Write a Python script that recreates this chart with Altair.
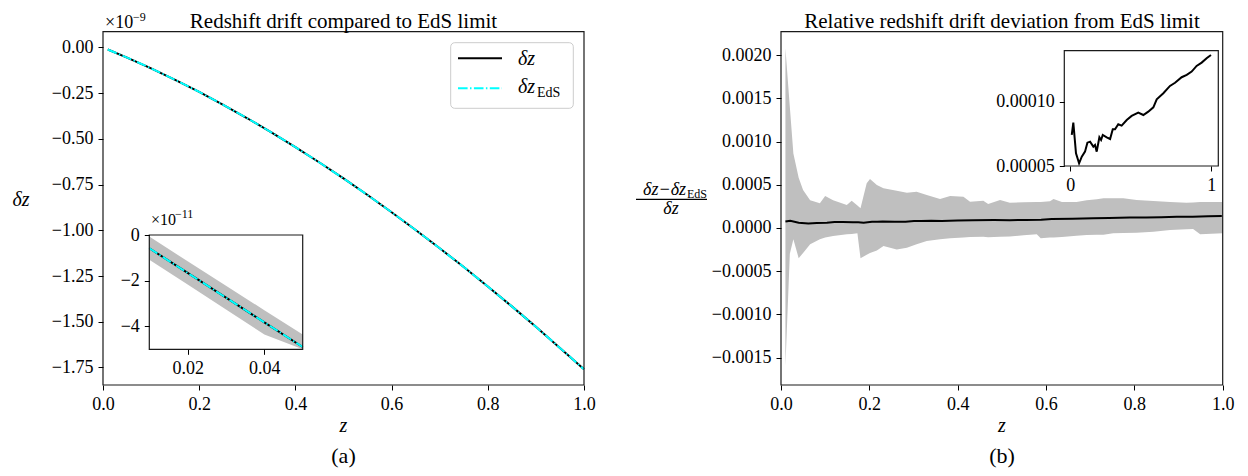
import altair as alt
import pandas as pd

# ---------------- data ----------------
# Panel (a): redshift drift (units of 1e-9)
z_main = [0.01, 0.05, 0.10, 0.15, 0.20, 0.25, 0.30, 0.35, 0.40, 0.45, 0.50,
          0.55, 0.60, 0.65, 0.70, 0.75, 0.80, 0.85, 0.90, 0.95, 1.00]
dz_main = [-0.011, -0.055, -0.114, -0.177, -0.243, -0.314, -0.387, -0.464, -0.545, -0.629, -0.716,
           -0.807, -0.901, -0.998, -1.098, -1.201, -1.307, -1.416, -1.528, -1.643, -1.760]
dz_eds_main = [-0.011, -0.055, -0.114, -0.177, -0.243, -0.314, -0.387, -0.464, -0.545, -0.629, -0.716,
               -0.807, -0.901, -0.998, -1.098, -1.201, -1.307, -1.416, -1.528, -1.643, -1.760]

# Panel (a) inset (units of 1e-11)
z_inset_a = [0.01, 0.02, 0.03, 0.04, 0.05]
dz_inset_a = [-0.58, -1.66, -2.74, -3.82, -4.90]
dz_eds_inset_a = [-0.58, -1.66, -2.74, -3.82, -4.90]
band_hi_inset_a = [-0.07, -1.15, -2.22, -3.29, -4.35]
band_lo_inset_a = [-1.08, -2.17, -3.26, -4.35, -5.45]

# Panel (b): relative deviation (mean line, also shown in inset)
z_rel = [0.010, 0.021, 0.040, 0.062, 0.081, 0.104, 0.121, 0.140, 0.163, 0.175, 0.187, 0.206,
         0.218, 0.230, 0.258, 0.282, 0.301, 0.317, 0.340, 0.364, 0.400, 0.435, 0.482, 0.518,
         0.553, 0.589, 0.613, 0.660, 0.707, 0.743, 0.790, 0.826, 0.861, 0.896, 0.932, 0.967, 0.998]
rel_dev = [0.0000742, 0.0000838, 0.0000599, 0.0000521, 0.0000573, 0.0000612, 0.0000682, 0.0000690,
           0.0000651, 0.0000664, 0.0000612, 0.0000724, 0.0000703, 0.0000742, 0.0000724, 0.0000711,
           0.0000787, 0.0000787, 0.0000826, 0.0000815, 0.0000859, 0.0000891, 0.0000916, 0.0000898,
           0.0000924, 0.0000958, 0.0001020, 0.0001068, 0.0001125, 0.0001150, 0.0001193, 0.0001211,
           0.0001237, 0.0001281, 0.0001307, 0.0001341, 0.0001367]

# Panel (b): spread band
z_band = [0.010, 0.020, 0.028, 0.040, 0.050, 0.066, 0.088, 0.100, 0.118, 0.149, 0.160, 0.173,
          0.180, 0.194, 0.2015, 0.217, 0.232, 0.262, 0.285, 0.307, 0.330, 0.360, 0.383, 0.413,
          0.428, 0.458, 0.469, 0.496, 0.518, 0.549, 0.579, 0.588, 0.609, 0.617, 0.636, 0.669,
          0.692, 0.715, 0.730, 0.752, 0.775, 0.805, 0.843, 0.881, 0.918, 0.933, 0.949, 1.000]
band_hi = [0.00208, 0.00140, 0.00086, 0.00058, 0.00044, 0.00032, 0.000285, 0.00037, 0.00032,
           0.000265, 0.000315, 0.00026, 0.000227, 0.000516, 0.000566, 0.000497, 0.000458,
           0.000431, 0.000407, 0.000419, 0.000381, 0.000334, 0.000369, 0.000361, 0.000303,
           0.000315, 0.000277, 0.000323, 0.000292, 0.000296, 0.0003, 0.0003, 0.000308, 0.000334,
           0.0003, 0.0003, 0.00032, 0.000331, 0.000343, 0.000343, 0.000343, 0.000323, 0.000313,
           0.0003, 0.000292, 0.000295, 0.0003, 0.0003]
band_lo = [-0.00160, -0.00030, -0.00013, -0.00035, -0.00029, -0.00019, -0.00013, -0.00011,
           -0.000094, -0.000074, -0.00007, -0.000063, -0.00035, -0.00031, -0.00029, -0.00026,
           -0.00021, -0.00025, -0.00023, -0.00019, -0.00015, -0.00013, -0.00012, -0.00011,
           -0.000105, -0.000102, -0.000108, -0.000103, -0.0001, -0.000086, -0.000074, -0.00012,
           -0.000112, -0.00011, -0.000105, -0.00009, -0.000082, -0.00008, -0.000078, -0.000063,
           -0.00006, -0.000056, -0.000044, -0.000024, -0.000016, -0.000013, -0.000074, -0.000063]

# tick values
xt_main = [0.0, 0.2, 0.4, 0.6, 0.8, 1.0]
yt_a = [0.0, -0.25, -0.5, -0.75, -1.0, -1.25, -1.5, -1.75]
xt_ia = [0.02, 0.04]
yt_ia = [0, -2, -4]
yt_b = [0.002, 0.0015, 0.001, 0.0005, 0.0, -0.0005, -0.001, -0.0015]
xt_ib = [0, 1]
yt_ib = [0.00005, 0.0001]

# ---------------- layout ----------------
# positions are given in page pixels and converted to chart pixels
PAD_TOP = 10
W, H = 1232, 460 - PAD_TOP


def px(x):
    return x - 8


def py(y):
    return y - 8 - PAD_TOP


FONT = "Liberation Serif"
XA, YA = [px(103), px(584)], [py(385), py(31.7)]
XIA, YIA = [px(149.3), px(302.7)], [py(349.3), py(235)]
XB, YB = [px(781), px(1222.7)], [py(385), py(31.7)]
XIB, YIB = [px(1064.3), px(1218.3)], [py(166), py(50.7)]
DXA, DYA = [0, 1], [-1.846, 0.0864]
DXIA, DYIA = [0.01, 0.05], [-5, 0]
DXB, DYB = [0, 1], [-0.001818, 0.002271]
DXIB, DYIB = [-0.043, 1.05], [0.00005, 0.00014]
CYAN = "#00FFFF"
DASHDOT = [9.6, 2.4, 1.5, 2.4]


def yaxis(xpx, values, fmt):
    return alt.Axis(orient="left", offset=-xpx, values=values, format=fmt, title=None,
                    grid=False, domain=False, tickSize=5, tickColor="black", tickWidth=1,
                    labelFont=FONT, labelFontSize=18, labelColor="black", labelPadding=5,
                    labelOverlap=False, labelFlush=False, zindex=1)


def xaxis(ypx, values, fmt):
    return alt.Axis(orient="bottom", offset=-(H - ypx), values=values, format=fmt, title=None,
                    grid=False, domain=False, tickSize=5, tickColor="black", tickWidth=1,
                    labelFont=FONT, labelFontSize=18, labelColor="black", labelPadding=5,
                    labelOverlap=False, labelFlush=False, zindex=1)


def frame(dx, dy, sx, sy, ax, ay, fill=False):
    df = pd.DataFrame({"x0": [dx[0]], "x1": [dx[1]], "y0": [dy[0]], "y1": [dy[1]]})
    if fill:
        m = alt.Chart(df).mark_rect(color="white")
    else:
        m = alt.Chart(df).mark_rect(fillOpacity=0, stroke="#1a1a1a", strokeWidth=1.2)
    return m.encode(x=alt.X("x0:Q", scale=sx, axis=ax), x2="x1:Q",
                    y=alt.Y("y0:Q", scale=sy, axis=ay), y2="y1:Q")


# ---- panel (a) main ----
sxa = alt.Scale(domain=DXA, range=XA, nice=False, zero=False)
sya = alt.Scale(domain=DYA, range=YA, nice=False, zero=False)
axa_x = xaxis(YA[0], xt_main, ".1f")
axa_y = yaxis(XA[0], yt_a, ".2f")
df_a = pd.DataFrame({"z": z_main, "dz": dz_main, "dz_eds": dz_eds_main})
a_black = alt.Chart(df_a).mark_line(color="black", strokeWidth=2).encode(
    x=alt.X("z:Q", scale=sxa, axis=axa_x), y=alt.Y("dz:Q", scale=sya, axis=axa_y))
a_cyan = alt.Chart(df_a).mark_line(color=CYAN, strokeWidth=2, strokeDash=DASHDOT).encode(
    x=alt.X("z:Q", scale=sxa, axis=axa_x), y=alt.Y("dz_eds:Q", scale=sya, axis=axa_y))
group_a = alt.layer(a_black, a_cyan, frame(DXA, DYA, sxa, sya, axa_x, axa_y))

# ---- panel (a) inset ----
sxia = alt.Scale(domain=DXIA, range=XIA, nice=False, zero=False)
syia = alt.Scale(domain=DYIA, range=YIA, nice=False, zero=False, clamp=True)
axia_x = xaxis(YIA[0], xt_ia, ".2f")
axia_y = yaxis(XIA[0], yt_ia, "d")
df_ia = pd.DataFrame({"z": z_inset_a, "dz": dz_inset_a, "dz_eds": dz_eds_inset_a,
                      "hi": band_hi_inset_a, "lo": band_lo_inset_a})
ia_band = alt.Chart(df_ia).mark_area(color="#BFBFBF", opacity=1).encode(
    x=alt.X("z:Q", scale=sxia, axis=axia_x), y=alt.Y("hi:Q", scale=syia, axis=axia_y), y2="lo:Q")
ia_black = alt.Chart(df_ia).mark_line(color="black", strokeWidth=2).encode(
    x=alt.X("z:Q", scale=sxia, axis=axia_x), y=alt.Y("dz:Q", scale=syia, axis=axia_y))
ia_cyan = alt.Chart(df_ia).mark_line(color=CYAN, strokeWidth=2, strokeDash=DASHDOT).encode(
    x=alt.X("z:Q", scale=sxia, axis=axia_x), y=alt.Y("dz_eds:Q", scale=syia, axis=axia_y))
group_ia = alt.layer(frame(DXIA, DYIA, sxia, syia, axia_x, axia_y, fill=True),
                     ia_band, ia_black, ia_cyan,
                     frame(DXIA, DYIA, sxia, syia, axia_x, axia_y))

# ---- panel (b) main ----
sxb = alt.Scale(domain=DXB, range=XB, nice=False, zero=False)
syb = alt.Scale(domain=DYB, range=YB, nice=False, zero=False)
axb_x = xaxis(YB[0], xt_main, ".1f")
axb_y = yaxis(XB[0], yt_b, ".4f")
df_band = pd.DataFrame({"z": z_band, "hi": band_hi, "lo": band_lo})
df_rel = pd.DataFrame({"z": z_rel, "v": rel_dev})
b_band = alt.Chart(df_band).mark_area(color="#BFBFBF", opacity=1).encode(
    x=alt.X("z:Q", scale=sxb, axis=axb_x), y=alt.Y("hi:Q", scale=syb, axis=axb_y), y2="lo:Q")
b_line = alt.Chart(df_rel).mark_line(color="black", strokeWidth=2).encode(
    x=alt.X("z:Q", scale=sxb, axis=axb_x), y=alt.Y("v:Q", scale=syb, axis=axb_y))
group_b = alt.layer(b_band, b_line, frame(DXB, DYB, sxb, syb, axb_x, axb_y))

# ---- panel (b) inset ----
sxib = alt.Scale(domain=DXIB, range=XIB, nice=False, zero=False)
syib = alt.Scale(domain=DYIB, range=YIB, nice=False, zero=False)
axib_x = xaxis(YIB[0], xt_ib, "d")
axib_y = yaxis(XIB[0], yt_ib, ".5f")
ib_line = alt.Chart(df_rel).mark_line(color="black", strokeWidth=2).encode(
    x=alt.X("z:Q", scale=sxib, axis=axib_x), y=alt.Y("v:Q", scale=syib, axis=axib_y))
group_ib = alt.layer(frame(DXIB, DYIB, sxib, syib, axib_x, axib_y, fill=True), ib_line,
                     frame(DXIB, DYIB, sxib, syib, axib_x, axib_y))

# ---- annotations ----
one = pd.DataFrame({"a": [0]})


def txt(s, x, y, size, style="normal", align="center", baseline="alphabetic"):
    return alt.Chart(one).mark_text(text=s, font=FONT, fontSize=size, fontStyle=style,
                                    align=align, baseline=baseline, color="black").encode(
        x=alt.value(px(x)), y=alt.value(py(y)))


def rule(x1, x2, y, color, width, dash=None):
    kw = dict(color=color, strokeWidth=width)
    if dash:
        kw["strokeDash"] = dash
    return alt.Chart(one).mark_rule(**kw).encode(
        x=alt.value(px(x1)), x2=alt.value(px(x2)), y=alt.value(py(y)))


legend_box = alt.Chart(one).mark_rect(fill="white", fillOpacity=0.85, stroke="#cccccc",
                                      strokeWidth=1, cornerRadius=4).encode(
    x=alt.value(px(450.7)), x2=alt.value(px(573.3)), y=alt.value(py(42.7)), y2=alt.value(py(108.3)))
leg_black = rule(458, 502, 58.3, "black", 2)
leg_cyan = rule(458, 502, 88.3, CYAN, 2, DASHDOT)
frac_bar = rule(636, 707, 199.3, "black", 1.2)

texts = [
    txt("Redshift drift compared to EdS limit", 343.5, 28, 21),
    txt("Relative redshift drift deviation from EdS limit", 1002, 28, 21),
    txt("×10", 105, 28, 18, align="left"),
    txt("−9", 133, 21, 12, align="left"),
    txt("×10", 151, 225, 16, align="left"),
    txt("−11", 175, 218, 12, align="left"),
    txt("δz", 21, 206, 20, style="italic"),
    txt("z", 343.5, 432, 20, style="italic"),
    txt("z", 1002, 432, 20, style="italic"),
    txt("(a)", 343.5, 463, 22),
    txt("(b)", 1002, 463, 22),
    txt("δz", 518, 65, 20, style="italic", align="left"),
    txt("δz", 518, 93, 20, style="italic", align="left"),
    txt("EdS", 537, 97, 14, align="left"),
    txt("δz−δz", 686, 195, 18, style="italic", align="right"),
    txt("EdS", 687, 198, 12, align="left"),
    txt("δz", 671, 214, 18, style="italic"),
]

chart = alt.layer(group_a, group_ia, legend_box, leg_black, leg_cyan,
                  group_b, group_ib, frac_bar, *texts).resolve_scale(
    x="independent", y="independent").resolve_axis(
    x="independent", y="independent").properties(
    width=W, height=H, autosize=alt.AutoSizeParams(type="none"),
    padding={"left": 0, "top": PAD_TOP, "right": 0, "bottom": 0},
    background="white").configure_view(stroke=None).configure_axis(
    labelFont=FONT, labelFontSize=18)

chart.save("out.html", embed_options={"renderer": "svg", "actions": False})
